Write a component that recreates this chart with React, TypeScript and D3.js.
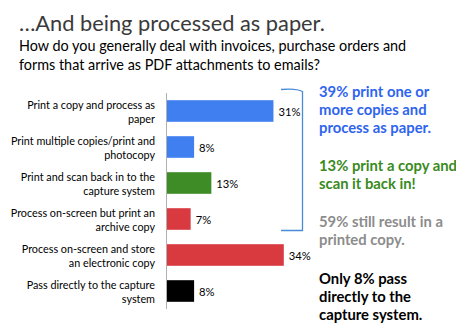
import React from "react";
import * as d3 from "d3";

const categories = [
  "Print a copy and process as\npaper",
  "Print multiple copies/print and\nphotocopy",
  "Print and scan back in to the\ncapture system",
  "Process on-screen but print an\narchive copy",
  "Process on-screen and store\nan electronic copy",
  "Pass directly to the capture\nsystem",
];
const values = [31, 8, 13, 7, 34, 8];
const barColors = ["#3f7ff0", "#3f7ff0", "#3d8c26", "#d83a40", "#d83a40", "#000000"];

const title = "…And being processed as paper.";
const subtitle = [
  "How do you generally deal with invoices, purchase orders and",
  "forms that arrive as PDF attachments to emails?",
];
const notes = [
  { lines: ["39% print one or", "more copies and", "process as paper."], color: "#2f64ee" },
  { lines: ["13% print a copy and", "scan it back in!"], color: "#3a8a22" },
  { lines: ["59% still result in a", "printed copy."], color: "#8c8c8c" },
  { lines: ["Only 8% pass", "directly to the", "capture system."], color: "#000000" },
];
const noteTops = [97, 171, 227, 284];

const FONT = "Lato, 'Open Sans', sans-serif";

export default function App() {
  const W = 456, H = 325;
  const x0 = 166.5;
  const x = d3.scaleLinear().domain([0, 40]).range([x0, x0 + 138]);
  const y = d3.scaleBand<number>().domain(d3.range(categories.length)).range([93, 309]).paddingInner(0.4).paddingOuter(0.2);

  return (
    <svg width={W} height={H} style={{ position: "absolute", left: 0, top: 0, background: "#fff" }} fontFamily={FONT}>
      <text x={19} y={31} fontSize={21.8} fill="#3a3a3a">{title}</text>
      {subtitle.map((s, i) => (
        <text key={i} x={19} y={51 + i * 19} fontSize={14.4} fill="#000">{s}</text>
      ))}
      {categories.map((c, i) => {
        const cy = (y(i) as number) + y.bandwidth() / 2;
        const lines = c.split("\n");
        return (
          <g key={i}>
            <rect x={x(0)} y={y(i)} width={x(values[i]) - x(0)} height={y.bandwidth()} fill={barColors[i]} />
            {lines.map((l, j) => (
              <text key={j} x={155} y={cy - 2 + j * 13.5} textAnchor="end" fontSize={10.8} fill="#000">{l}</text>
            ))}
            <text x={x(values[i]) + 5} y={cy + 4.5} fontSize={11.2} fill="#000">{values[i]}%</text>
          </g>
        );
      })}
      <line x1={x0} x2={x0} y1={93} y2={309} stroke="#b0b0b0" strokeWidth={1} />
      <path d="M281,89.5 Q296,88 302.5,91.5 L302.5,230.5 L281,230.5" fill="none" stroke="#4a8ad6" strokeWidth={1.3} />
      {notes.map((n, i) => (
        <text key={i} fontSize={14.8} fontWeight="bold" fill={n.color}>
          {n.lines.map((l, j) => (
            <tspan key={j} x={319} y={noteTops[i] + j * 17.8}>{l}</tspan>
          ))}
        </text>
      ))}
    </svg>
  );
}
